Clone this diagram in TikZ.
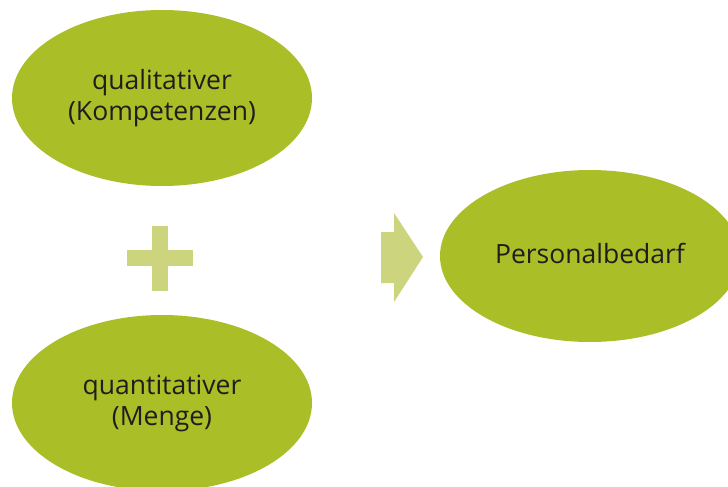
\documentclass[tikz,border=0pt]{standalone}
\usepackage{fontspec}
\setmainfont{Open Sans}
\usetikzlibrary{shapes.geometric}
\definecolor{ellgreen}{HTML}{AABE27}
\definecolor{lightgreen}{HTML}{CDD47E}
\definecolor{txt}{HTML}{1E1E1E}
\begin{document}
\begin{tikzpicture}[x=1pt,y=-1pt,
  blob/.style={ellipse, fill=ellgreen, draw=none, minimum width=300pt, minimum height=176pt,
    inner sep=0pt, text=txt, align=center, font=\fontsize{26.5}{31}\selectfont},
  sym/.style={fill=lightgreen, draw=none}]
\useasboundingbox (0,0) rectangle (728,487);
\clip (0,0) rectangle (728,487);
\node[blob] (qual) at (162,98) {qualitativer\\(Kompetenzen)};
\node[blob] (quant) at (162,403) {quantitativer\\(Menge)};
\node[blob, minimum height=172pt] (bedarf) at (590,256) {};
\node[text=txt, font=\fontsize{26.5}{31}\selectfont] (bedarflabel) at (590,253) {Personalbedarf};
% plus sign
\fill[sym] (127,250) rectangle (193,266);
\fill[sym] (152,226) rectangle (168,291);
% block arrow
\fill[sym] (381,232) -- (394,232) -- (394,213) -- (423,257) -- (394,302) -- (394,283) -- (381,283) -- cycle;
\end{tikzpicture}
\end{document}
